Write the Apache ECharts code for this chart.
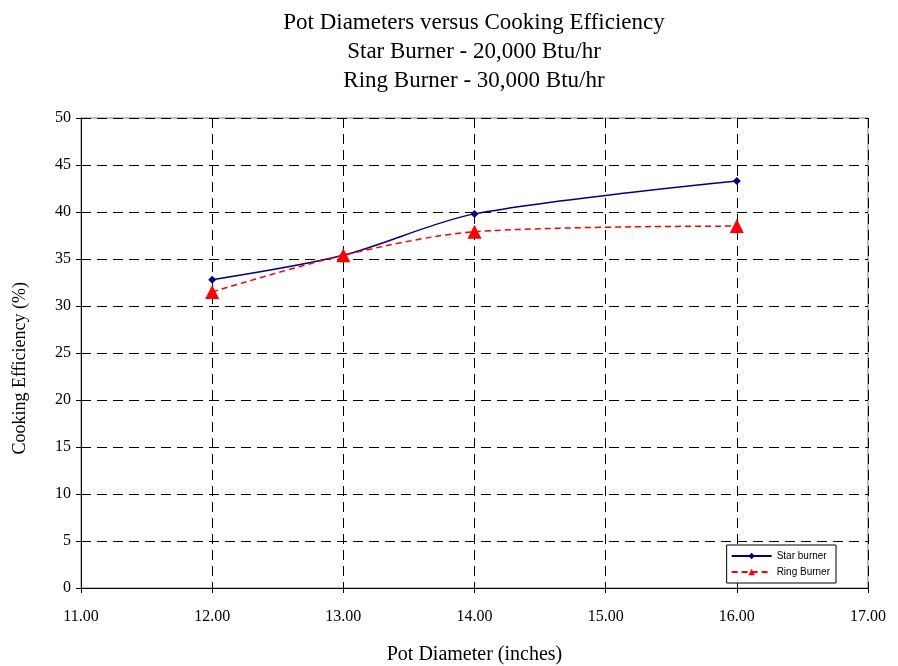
<!DOCTYPE html>
<html><head><meta charset="utf-8">
<script src="https://cdn.jsdelivr.net/npm/echarts@6/dist/echarts.min.js"></script>
<style>html,body{margin:0;padding:0;background:#fff}#c{width:898px;height:666px}</style>
</head><body><div id="c"></div>
<script>
const potDiameters = [12, 13, 14, 16];
const starBurner = [32.8, 35.4, 39.8, 43.3];
const ringBurner = [31.5, 35.4, 37.9, 38.5];
const titleLines = ['Pot Diameters versus Cooking Efficiency','Star Burner - 20,000 Btu/hr','Ring Burner - 30,000 Btu/hr'];
const xAxisName = 'Pot Diameter (inches)';
const yAxisName = 'Cooking Efficiency (%)';

const serif = '"Liberation Serif", "DejaVu Serif", serif';
const chart = echarts.init(document.getElementById('c'));
chart.setOption({
  animation: false,
  backgroundColor: '#fff',
  title: {
    text: titleLines.join('\n'),
    left: 469, top: 3, textAlign: 'center',
    textStyle: {fontFamily: serif, fontSize: 23, fontWeight: 'normal', color: '#000', lineHeight: 29}
  },
  graphic: [{
    type: 'text', left: 11, top: 282, rotation: Math.PI / 2,
    style: {text: yAxisName, fontFamily: serif, fontSize: 18, fill: '#000'}
  }],
  grid: {left: 81, right: 30, top: 118, bottom: 78, outerBoundsMode: 'none', containLabel: false,
         show: true, borderColor: '#808080', borderWidth: 1},
  legend: {
    right: 62, bottom: 83, orient: 'vertical',
    borderColor: '#000', borderWidth: 1, padding: [6, 6, 6, 4], itemGap: 6,
    itemWidth: 40, itemHeight: 8,
    backgroundColor: '#fff',
    textStyle: {fontFamily: '"Liberation Sans", Arial, sans-serif', fontSize: 10, color: '#000'},
    data: ['Star burner', 'Ring Burner']
  },
  xAxis: {
    type: 'value', min: 11, max: 17, interval: 1,
    name: xAxisName, nameLocation: 'middle', nameGap: 57,
    nameTextStyle: {fontFamily: serif, fontSize: 20, color: '#000'},
    axisLine: {onZero: false, lineStyle: {color: '#000', width: 1}},
    axisTick: {show: true, inside: false, length: 5, lineStyle: {color: '#000'}},
    axisLabel: {formatter: v => v.toFixed(2), fontFamily: serif, fontSize: 16, color: '#000', margin: 21},
    splitLine: {show: true, lineStyle: {color: '#000', type: [10, 6], width: 1}}
  },
  yAxis: {
    type: 'value', min: 0, max: 50, interval: 5,
    axisLine: {show: true, lineStyle: {color: '#000', width: 1}},
    axisTick: {show: true, inside: false, length: 5, lineStyle: {color: '#000'}},
    axisLabel: {fontFamily: serif, fontSize: 16, color: '#000', margin: 10},
    splitLine: {show: true, lineStyle: {color: '#000', type: [10, 6], width: 1}}
  },
  series: [
    {
      name: 'Star burner', type: 'line', smooth: 0.3,
      data: potDiameters.map((x, i) => [x, starBurner[i]]),
      symbol: 'diamond', symbolSize: 8,
      lineStyle: {color: '#000080', width: 1.5},
      itemStyle: {color: '#000080'}
    },
    {
      name: 'Ring Burner', type: 'line', smooth: 0.3,
      data: potDiameters.map((x, i) => [x, ringBurner[i]]),
      symbol: 'triangle', symbolSize: 14,
      lineStyle: {color: '#ff0000', width: 1.5, type: [6, 4]},
      itemStyle: {color: '#ff0000'}
    }
  ]
});
</script></body></html>
